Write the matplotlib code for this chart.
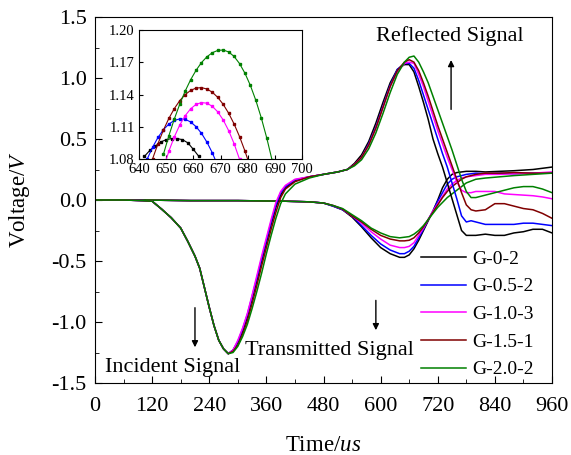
import numpy as np
import matplotlib
matplotlib.use("Agg")
import matplotlib.pyplot as plt

plt.rcParams['font.family'] = ['Liberation Serif', 'DejaVu Serif']
plt.rcParams['mathtext.fontset'] = 'custom'
plt.rcParams['mathtext.rm'] = 'Liberation Serif'
plt.rcParams['mathtext.it'] = 'Liberation Serif:italic'

# specimen names and colours
names = ['G-0-2', 'G-0.5-2', 'G-1.0-3', 'G-1.5-1', 'G-2.0-2']
colors = ['#000000', '#0000ff', '#ff00ff', '#800000', '#008000']

# incident + reflected bar signal (us, V)
t_ir = [0, 60, 100, 120, 140, 160, 180, 195, 210, 220, 230, 240, 250, 260, 270, 280,
        290, 300, 310, 320, 330, 340, 350, 360, 370, 380, 390, 400, 420, 450, 480, 510,
        530, 545, 560, 575, 590, 605, 620, 635, 650, 660, 670, 680, 690, 700, 710, 720,
        730, 740, 750, 760, 770, 780, 790, 800, 820, 840, 860, 880, 900, 920, 940, 960]

ir_g0 = [0.0, 0.0, -0.005, -0.01, -0.075, -0.145, -0.23, -0.34, -0.46, -0.56, -0.72, -0.88, -1.03, -1.15, -1.22, -1.26,
         -1.23, -1.17, -1.08, -0.96, -0.81, -0.66, -0.50, -0.35, -0.20, -0.06, 0.04, 0.10, 0.16, 0.19, 0.21, 0.23,
         0.25, 0.30, 0.37, 0.48, 0.63, 0.80, 0.96, 1.07, 1.11, 1.11, 1.05, 0.93, 0.80, 0.66, 0.50, 0.38,
         0.27, 0.14, 0.01, -0.12, -0.25, -0.29, -0.29, -0.29, -0.28, -0.29, -0.29, -0.27, -0.26, -0.24, -0.24, -0.27]
ir_g05 = [0.0, 0.0, -0.005, -0.01, -0.075, -0.145, -0.23, -0.34, -0.46, -0.56, -0.72, -0.88, -1.03, -1.15, -1.22, -1.26,
          -1.23, -1.16, -1.06, -0.94, -0.79, -0.64, -0.48, -0.33, -0.18, -0.04, 0.06, 0.11, 0.165, 0.19, 0.21, 0.23,
          0.25, 0.29, 0.35, 0.46, 0.60, 0.77, 0.94, 1.07, 1.12, 1.12, 1.08, 0.98, 0.86, 0.74, 0.62, 0.50,
          0.38, 0.27, 0.14, 0.01, -0.13, -0.18, -0.17, -0.18, -0.20, -0.20, -0.20, -0.20, -0.19, -0.19, -0.20, -0.21]
ir_g10 = [0.0, 0.0, -0.005, -0.01, -0.075, -0.145, -0.23, -0.34, -0.46, -0.56, -0.72, -0.88, -1.03, -1.15, -1.22, -1.26,
          -1.23, -1.15, -1.05, -0.93, -0.78, -0.62, -0.46, -0.31, -0.16, -0.02, 0.07, 0.12, 0.17, 0.19, 0.21, 0.23,
          0.25, 0.29, 0.35, 0.45, 0.59, 0.76, 0.93, 1.05, 1.12, 1.13, 1.12, 1.03, 0.93, 0.81, 0.69, 0.57,
          0.46, 0.35, 0.25, 0.15, 0.08, 0.06, 0.06, 0.07, 0.07, 0.07, 0.05, 0.045, 0.04, 0.035, 0.025, 0.01]
ir_g15 = [0.0, 0.0, -0.005, -0.01, -0.075, -0.145, -0.23, -0.34, -0.46, -0.56, -0.72, -0.88, -1.03, -1.15, -1.22, -1.26,
          -1.24, -1.19, -1.10, -0.99, -0.85, -0.70, -0.54, -0.39, -0.24, -0.10, 0.02, 0.09, 0.15, 0.19, 0.21, 0.23,
          0.25, 0.29, 0.35, 0.45, 0.59, 0.76, 0.93, 1.06, 1.13, 1.15, 1.13, 1.06, 0.96, 0.85, 0.73, 0.61,
          0.50, 0.39, 0.28, 0.17, 0.06, -0.04, -0.08, -0.09, -0.08, -0.03, -0.03, -0.05, -0.07, -0.08, -0.11, -0.15]
ir_g20 = [0.0, 0.0, -0.005, -0.01, -0.075, -0.145, -0.23, -0.34, -0.46, -0.56, -0.72, -0.88, -1.03, -1.15, -1.22, -1.26,
          -1.25, -1.20, -1.12, -1.02, -0.89, -0.75, -0.60, -0.44, -0.29, -0.15, -0.03, 0.05, 0.13, 0.18, 0.21, 0.23,
          0.25, 0.28, 0.33, 0.42, 0.55, 0.71, 0.88, 1.03, 1.13, 1.17, 1.18, 1.13, 1.05, 0.96, 0.85, 0.74,
          0.63, 0.52, 0.41, 0.29, 0.17, 0.07, 0.02, 0.02, 0.04, 0.06, 0.08, 0.10, 0.11, 0.11, 0.09, 0.06]

# transmitted bar signal (us, V)
t_tr = [0, 100, 200, 300, 400, 450, 480, 500, 520, 540, 560, 580, 600, 620, 640, 650, 660, 670,
        680, 690, 700, 710, 720, 730, 740, 750, 760, 770, 780, 800, 820, 850, 880, 920, 960]

tr_g0 = [0.0, 0.0, -0.005, -0.005, -0.01, -0.015, -0.025, -0.05, -0.08, -0.14, -0.22, -0.31, -0.39, -0.44, -0.47, -0.47, -0.45, -0.40,
         -0.33, -0.25, -0.17, -0.09, 0.0, 0.10, 0.17, 0.21, 0.225, 0.23, 0.235, 0.235, 0.23, 0.235, 0.24, 0.25, 0.27]
tr_g05 = [0.0, 0.0, -0.005, -0.005, -0.01, -0.015, -0.025, -0.05, -0.08, -0.13, -0.21, -0.29, -0.36, -0.41, -0.44, -0.44, -0.42, -0.38,
          -0.31, -0.24, -0.16, -0.09, -0.01, 0.06, 0.13, 0.17, 0.19, 0.20, 0.21, 0.22, 0.215, 0.22, 0.215, 0.22, 0.22]
tr_g10 = [0.0, 0.0, -0.005, -0.005, -0.01, -0.015, -0.025, -0.045, -0.075, -0.13, -0.19, -0.26, -0.32, -0.37, -0.39, -0.39, -0.38, -0.35,
          -0.29, -0.23, -0.16, -0.09, -0.03, 0.03, 0.09, 0.13, 0.16, 0.18, 0.19, 0.20, 0.21, 0.21, 0.215, 0.22, 0.23]
tr_g15 = [0.0, 0.0, -0.005, -0.005, -0.01, -0.015, -0.025, -0.045, -0.075, -0.13, -0.18, -0.24, -0.29, -0.32, -0.335, -0.335, -0.33, -0.31,
          -0.27, -0.22, -0.16, -0.10, -0.04, 0.02, 0.07, 0.11, 0.14, 0.17, 0.19, 0.21, 0.22, 0.22, 0.225, 0.22, 0.22]
tr_g20 = [0.0, 0.0, -0.005, -0.005, -0.01, -0.015, -0.025, -0.045, -0.07, -0.12, -0.17, -0.23, -0.27, -0.30, -0.31, -0.305, -0.30, -0.28,
          -0.25, -0.21, -0.16, -0.11, -0.06, -0.02, 0.02, 0.05, 0.08, 0.11, 0.14, 0.17, 0.18, 0.19, 0.20, 0.21, 0.22]

# inset: zoom on reflected peaks
in_t_g0 = [642, 644, 646, 648, 650, 652, 654, 656, 658, 660, 662]
in_v_g0 = [1.0825, 1.088, 1.092, 1.0958, 1.098, 1.099, 1.099, 1.098, 1.095, 1.089, 1.0825]
in_t_g05 = [643, 645, 647, 649, 651, 653, 655, 657, 659, 661, 663, 665, 667, 669]
in_v_g05 = [1.0799, 1.0909, 1.1001, 1.1073, 1.1125, 1.1159, 1.1173, 1.1169, 1.1145, 1.1101, 1.1039, 1.0957, 1.0857, 1.0737]
in_t_g10 = [649, 651, 653, 655, 657, 659, 661, 663, 665, 667, 669, 671, 673, 675, 677]
in_v_g10 = [1.0716, 1.0873, 1.1006, 1.1116, 1.1203, 1.1267, 1.1308, 1.1325, 1.1319, 1.129, 1.1238, 1.1163, 1.1064, 1.0943, 1.0798]
in_t_g15 = [645, 647, 649, 651, 653, 655, 657, 659, 661, 663, 665, 667, 669, 671, 673, 675, 677, 679, 681]
in_v_g15 = [1.0801, 1.0944, 1.107, 1.1178, 1.1269, 1.1343, 1.1399, 1.1438, 1.146, 1.1464, 1.1451, 1.1421, 1.1373, 1.1308,
            1.1226, 1.1126, 1.1009, 1.0874, 1.0722]
in_t_g20 = [649, 651, 653, 655, 657, 659, 661, 663, 665, 667, 669, 671, 673, 675, 677, 679, 681, 683, 685, 687, 689]
in_v_g20 = [1.0845, 1.1017, 1.1172, 1.131, 1.1432, 1.1537, 1.1625, 1.1697, 1.1751, 1.1789, 1.181, 1.1814, 1.1796, 1.1754,
            1.1688, 1.1598, 1.1484, 1.1346, 1.1184, 1.0998, 1.0788]

ir_all = [ir_g0, ir_g05, ir_g10, ir_g15, ir_g20]
tr_all = [tr_g0, tr_g05, tr_g10, tr_g15, tr_g20]
inset_all = [(in_t_g0, in_v_g0), (in_t_g05, in_v_g05), (in_t_g10, in_v_g10),
             (in_t_g15, in_v_g15), (in_t_g20, in_v_g20)]

fig = plt.figure(figsize=(5.71, 4.55), dpi=100)
ax = fig.add_axes([95 / 571, 1 - 383 / 455, 457 / 571, 366 / 455])

handles = []
for name, col, tr in zip(names, colors, tr_all):
    h, = ax.plot(t_tr, tr, color=col, lw=1.1, label=name)
    handles.append(h)
for col, ir in zip(colors, ir_all):
    ax.plot(t_ir, ir, color=col, lw=1.1)

ax.set_xlim(0, 960)
ax.set_ylim(-1.5, 1.5)
ax.set_xticks(np.arange(0, 961, 120))
ax.set_xticks(np.arange(60, 961, 120), minor=True)
ax.set_yticks(np.arange(-1.5, 1.51, 0.5))
ax.set_yticks(np.arange(-1.25, 1.5, 0.5), minor=True)
ax.set_yticklabels(['%.1f' % v for v in np.arange(-1.5, 1.51, 0.5)])
ax.tick_params(which='both', direction='in', labelsize=16)
ax.tick_params(axis='x', pad=10)
ax.tick_params(axis='y', pad=6)
ax.tick_params(which='major', length=5)
ax.tick_params(which='minor', length=3)
ax.set_xlabel('Time/$\\it{us}$', fontsize=16.5, labelpad=14)
ax.set_ylabel('Voltage/$\\it{V}$', fontsize=16.5, labelpad=14)

# annotations
ax.text(745, 1.34, 'Reflected Signal', fontsize=16, ha='center', va='center')
ax.annotate('', xy=(748, 1.17), xytext=(748, 0.72),
            arrowprops=dict(arrowstyle='-|>', color='k', lw=1, mutation_scale=9))
ax.text(21, -1.37, 'Incident Signal', fontsize=16, ha='left', va='center')
ax.annotate('', xy=(210, -1.23), xytext=(210, -0.86),
            arrowprops=dict(arrowstyle='-|>', color='k', lw=1, mutation_scale=9))
ax.text(315, -1.23, 'Transmitted Signal', fontsize=16, ha='left', va='center')
ax.annotate('', xy=(590, -1.09), xytext=(590, -0.80),
            arrowprops=dict(arrowstyle='-|>', color='k', lw=1, mutation_scale=9))

ax.legend(handles=handles, loc='upper left', bbox_to_anchor=(421 / 571, 1 - 250 / 455),
          bbox_transform=fig.transFigure, frameon=False, fontsize=14,
          handlelength=2.3, handletextpad=0.35, labelspacing=0.52, borderpad=0, borderaxespad=0)

# inset
axin = fig.add_axes([139 / 571, 1 - 159 / 455, 163 / 571, 129 / 455])
for col, (ti, vi) in zip(colors, inset_all):
    axin.plot(ti, vi, color=col, lw=0.8, marker='s', ms=1.8)
axin.set_xlim(640, 700)
axin.set_ylim(1.08, 1.20)
axin.set_xticks(np.arange(640, 701, 10))
axin.set_yticks([1.08, 1.11, 1.14, 1.17, 1.20])
axin.set_yticklabels(['1.08', '1.11', '1.14', '1.17', '1.20'])
axin.tick_params(direction='in', labelsize=10.5, length=3, pad=3)

fig.savefig('out.png', dpi=100)
